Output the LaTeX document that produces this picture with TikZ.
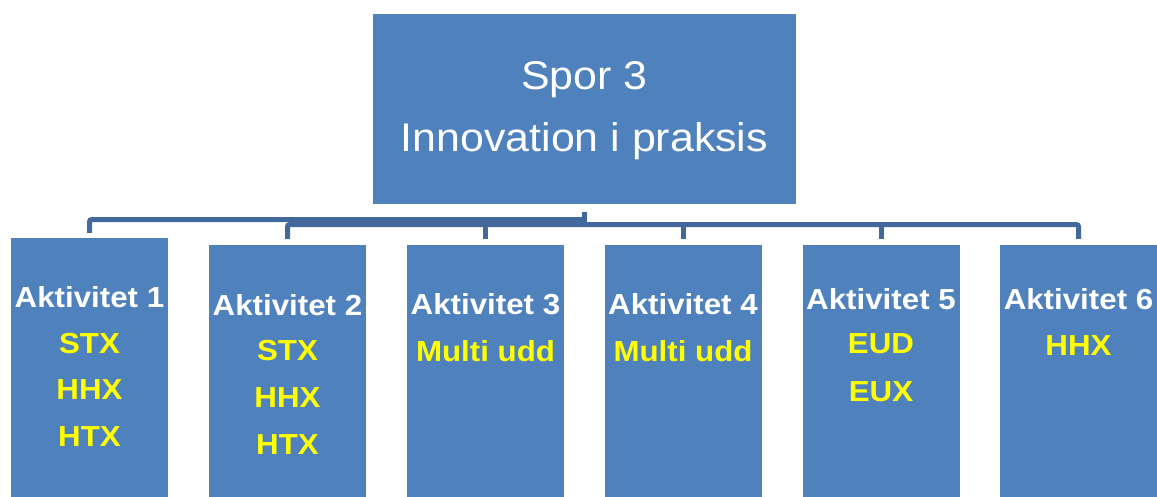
\documentclass[tikz,border=0pt]{standalone}
\usepackage{fontspec}
\setmainfont{Liberation Sans}
\newfontfamily\actfont[FakeStretch=1.08]{Liberation Sans}
\newfontfamily\sporfont[FakeStretch=1.07]{Liberation Sans}
\usetikzlibrary{calc}
\definecolor{boxblue}{HTML}{4F81BD}
\definecolor{lineblue}{HTML}{41699C}
\definecolor{eduyellow}{HTML}{FFFF00}

\begin{document}
\begin{tikzpicture}[x=0.025cm, y=-0.025cm,
  box/.style={fill=boxblue, anchor=north, inner sep=0, minimum width=157*0.025cm, minimum height=252*0.025cm},
  link/.style={draw=lineblue, line width=0.125cm, rounded corners=1.5pt},
  act/.style={text=white, font=\actfont\bfseries\fontsize{20.6}{24}\selectfont, anchor=base, inner sep=0},
  edu/.style={act, text=eduyellow},
  spor/.style={text=white, font=\sporfont\fontsize{28.5}{34}\selectfont, anchor=base, inner sep=0}]

  \useasboundingbox (0,0) rectangle (1157,497);

  % top box
  \node[box, minimum width=423*0.025cm, minimum height=190*0.025cm] (top) at (584.5,14) {};
  \node[spor] (spor) at (584.5,90) {Spor 3};
  \node[spor] (innov) at (584.5,151.7) {Innovation i praksis};

  % activity boxes
  \node[box, minimum height=259*0.025cm] (b1) at (89.5,238) {};
  \node[box] (b2) at (287.5,245) {};
  \node[box] (b3) at (485.5,245) {};
  \node[box] (b4) at (683,245) {};
  \node[box] (b5) at (881,245) {};
  \node[box] (b6) at (1078.5,245) {};

  % connectors
  \draw[link] ($(b1.north)+(0,-5)$) |- ($(top.south)+(0,15)$);
  \draw[link] ($(top.south)+(0,7)$) -- ($(top.south)+(0,20)$);
  \draw[link] ($(b2.north)+(0,-6)$) |- ($(top.south)+(0,20)$) -| ($(b6.north)+(0,-6)$);
  \foreach \b in {b3,b4,b5}
    \draw[link] ($(\b.north)+(0,-6)$) -- ++(0,-15);

  % texts
  \node[act] (a1) at (89.5,308) {Aktivitet 1};
  \node[edu] (a1stx) at (89.5,353.5) {STX};
  \node[edu] (a1hhx) at (89.5,400) {HHX};
  \node[edu] (a1htx) at (89.5,446) {HTX};

  \node[act] (a2) at (287.5,315.5) {Aktivitet 2};
  \node[edu] (a2stx) at (287.5,361) {STX};
  \node[edu] (a2hhx) at (287.5,408) {HHX};
  \node[edu] (a2htx) at (287.5,454) {HTX};

  \node[act] (a3) at (485.5,315) {Aktivitet 3};
  \node[edu] (a3multi) at (485.5,362) {Multi udd};

  \node[act] (a4) at (683,315) {Aktivitet 4};
  \node[edu] (a4multi) at (683,362) {Multi udd};

  \node[act] (a5) at (881,310) {Aktivitet 5};
  \node[edu] (a5eud) at (881,353.5) {EUD};
  \node[edu] (a5eux) at (881,402) {EUX};

  \node[act] (a6) at (1078.5,310) {Aktivitet 6};
  \node[edu] (a6hhx) at (1078.5,356) {HHX};

\end{tikzpicture}
\end{document}
